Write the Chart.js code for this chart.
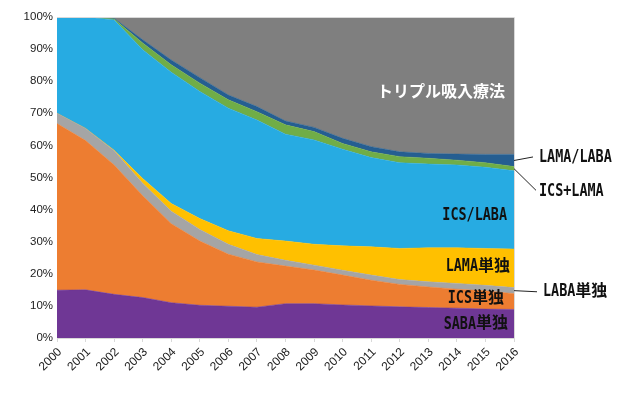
<!DOCTYPE html>
<html>
<head>
<meta charset="utf-8">
<script src="https://cdn.jsdelivr.net/npm/chart.js@4"></script>
<style>
  html, body { margin: 0; padding: 0; background: #fff; }
  #wrap { width: 623px; height: 397px; }
</style>
</head>
<body>
<div id="wrap"><canvas id="chart"></canvas></div>
<script>
// データ（各年のシェア %）
const years = ['2000','2001','2002','2003','2004','2005','2006','2007','2008','2009','2010','2011','2012','2013','2014','2015','2016'];
const saba     = [14.9, 15.0, 13.6, 12.6, 11.0, 10.2, 9.9, 9.6, 10.7, 10.7, 10.3, 10.0, 9.7, 9.5, 9.3, 9.0, 8.9];
const ics      = [51.9, 46.5, 40.3, 31.7, 24.6, 20.0, 16.2, 14.1, 11.7, 10.5, 9.3, 8.0, 7.0, 6.4, 5.9, 5.7, 4.9];
const laba     = [3.2, 3.8, 4.4, 3.9, 3.9, 3.6, 3.1, 2.3, 1.8, 1.5, 1.5, 1.6, 1.5, 1.6, 1.8, 1.7, 1.9];
const lama     = [0, 0, 0.2, 1.5, 2.4, 3.4, 4.2, 5.0, 6.0, 6.5, 7.6, 8.8, 9.7, 10.6, 11.1, 11.5, 12.0];
const icsLaba  = [30.0, 34.7, 40.6, 40.1, 40.9, 39.6, 38.2, 36.9, 33.3, 32.5, 30.1, 27.8, 26.7, 26.1, 25.8, 25.3, 24.4];
const icsLama  = [0, 0, 0.3, 2.1, 2.3, 2.6, 2.6, 2.6, 2.9, 2.6, 1.8, 1.8, 1.9, 1.8, 1.5, 1.4, 1.3];
const lamaLaba = [0, 0, 0.2, 1.0, 1.5, 1.7, 1.5, 1.6, 1.2, 1.3, 1.6, 1.6, 1.5, 1.5, 1.9, 2.6, 3.8];
const triple   = [0, 0, 0.4, 7.1, 13.4, 18.9, 24.3, 27.9, 32.4, 34.4, 37.8, 40.4, 42.0, 42.5, 42.7, 42.8, 42.8];
const yTicks = [0, 10, 20, 30, 40, 50, 60, 70, 80, 90, 100];

const series = [
  { name: 'SABA単独', data: saba, color: '#6F3795' },
  { name: 'ICS単独', data: ics, color: '#ED7D31' },
  { name: 'LABA単独', data: laba, color: '#A5A5A5' },
  { name: 'LAMA単独', data: lama, color: '#FFC000' },
  { name: 'ICS/LABA', data: icsLaba, color: '#27ABE2' },
  { name: 'ICS+LAMA', data: icsLama, color: '#70AD47' },
  { name: 'LAMA/LABA', data: lamaLaba, color: '#255E91' },
  { name: 'トリプル吸入療法', data: triple, color: '#7F7F7F' }
];

// ラベル: [テキスト, 位置(%), x基準, 揃え, 色]
const labels = [
  ['トリプル吸入療法', 76.4, -9, 'right', '#fff'],
  ['ICS/LABA', 38.0, -7, 'right', '#111'],
  ['LAMA単独', 22.2, -4, 'right', '#111'],
  ['ICS単独', 12.3, -10, 'right', '#111'],
  ['SABA単独', 4.3, -6, 'right', '#111'],
  ['LAMA/LABA', 56.1, 25, 'left', '#111'],
  ['ICS+LAMA', 45.6, 25, 'left', '#111'],
  ['LABA単独', 14.4, 29, 'left', '#111']
];
// 引き出し線: [開始値(%), 終点x, 終点値(%)]
const leaders = [
  [saba[16] + ics[16] + laba[16] / 2, 23, 14.4],
  [100 - triple[16] - lamaLaba[16] / 2, 19, 56.4],
  [100 - triple[16] - lamaLaba[16] - icsLama[16] / 2, 22, 46.0]
];

const isCJK = (c) => c.charCodeAt(0) >= 0x2E80;

function textWidth(ctx, text) {
  let w = 0;
  for (const c of text) {
    if (isCJK(c)) {
      ctx.font = 'bold 16px "Noto Sans CJK JP"';
      w += ctx.measureText(c).width;
    } else {
      ctx.font = 'bold 17px "DejaVu Sans Mono"';
      w += ctx.measureText(c).width * 0.79;
    }
  }
  return w;
}

function drawLabel(ctx, text, x, y, align, color) {
  const w = textWidth(ctx, text);
  let cx = align === 'right' ? x - w : x;
  ctx.fillStyle = color;
  ctx.textBaseline = 'middle';
  ctx.textAlign = 'left';
  for (const c of text) {
    if (isCJK(c)) {
      ctx.font = 'bold 16px "Noto Sans CJK JP"';
      const cw = ctx.measureText(c).width;
      ctx.fillText(c, cx, y - 2);
      cx += cw;
    } else {
      ctx.font = 'bold 17px "DejaVu Sans Mono"';
      const cw = ctx.measureText(c).width * 0.79;
      ctx.save();
      ctx.translate(cx, y);
      ctx.scale(0.79, 1);
      ctx.fillText(c, 0, 0);
      ctx.restore();
      cx += cw;
    }
  }
}

const annotate = {
  id: 'annotate',
  afterDatasetsDraw(chart) {
    const ctx = chart.ctx;
    const a = chart.chartArea;
    const y = chart.scales.y;
    ctx.save();
    ctx.strokeStyle = '#d9d9d9';
    ctx.lineWidth = 1;
    ctx.beginPath();
    ctx.moveTo(a.left, a.top + 0.5);
    ctx.lineTo(a.right + 0.5, a.top + 0.5);
    ctx.lineTo(a.right + 0.5, a.bottom);
    ctx.stroke();

    ctx.strokeStyle = '#222';
    leaders.forEach(([v0, dx, v1]) => {
      ctx.beginPath();
      ctx.moveTo(a.right, y.getPixelForValue(v0));
      ctx.lineTo(a.right + dx, y.getPixelForValue(v1));
      ctx.stroke();
    });

    labels.forEach(([t, v, dx, align, color]) => {
      drawLabel(ctx, t, a.right + dx, y.getPixelForValue(v), align, color);
    });
    ctx.restore();
  }
};

new Chart(document.getElementById('chart'), {
  type: 'line',
  data: {
    labels: years,
    datasets: series.map((s, i) => ({
      label: s.name,
      data: s.data,
      backgroundColor: s.color,
      borderColor: s.color,
      borderWidth: 0.5,
      pointRadius: 0,
      tension: 0,
      fill: i === 0 ? 'origin' : '-1'
    }))
  },
  options: {
    responsive: true,
    maintainAspectRatio: false,
    animation: false,
    layout: { padding: { top: 17, right: 109, left: 0, bottom: 0 } },
    plugins: {
      legend: { display: false },
      tooltip: { enabled: false }
    },
    scales: {
      x: {
        grid: { drawOnChartArea: false, drawTicks: true, tickLength: 4, color: '#d9d9d9' },
        border: { color: '#d9d9d9' },
        ticks: {
          minRotation: 45, maxRotation: 45, padding: 3, labelOffset: 3,
          color: '#222',
          font: { family: '"Liberation Sans", Arial, sans-serif', size: 12 }
        },
        afterFit: (scale) => { scale.height = 59; }
      },
      y: {
        stacked: true,
        min: 0,
        max: 100,
        afterBuildTicks: (scale) => { scale.ticks = yTicks.map(v => ({ value: v })); },
        grid: { display: false, drawTicks: false, tickLength: 0 },
        border: { color: '#d9d9d9' },
        ticks: {
          padding: 4,
          color: '#222',
          font: { family: '"Liberation Sans", Arial, sans-serif', size: 11.5 },
          callback: (v) => v + '%'
        },
        afterFit: (scale) => { scale.width = 57; }
      }
    }
  },
  plugins: [annotate]
});
</script>
</body>
</html>
